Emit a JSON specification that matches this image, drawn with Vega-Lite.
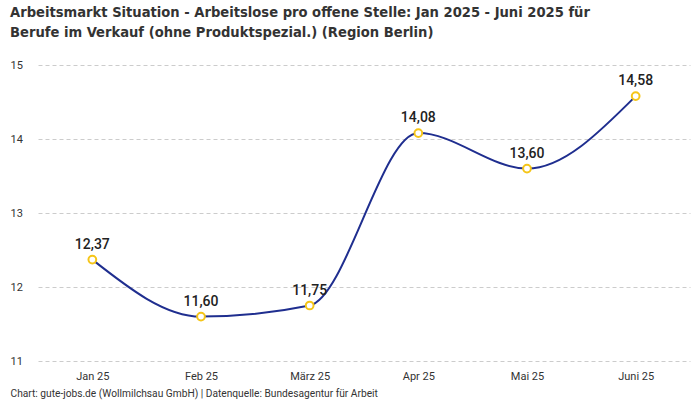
{
  "$schema": "https://vega.github.io/schema/vega-lite/v6.json",
  "width": 652,
  "height": 296,
  "autosize": {"type": "none"},
  "padding": {"left": 38, "top": 65, "right": 10, "bottom": 39},
  "background": "white",
  "config": {
    "view": {"stroke": null},
    "locale": {"number": {"decimal": ",", "thousands": ".", "grouping": [3], "currency": ["", " €"]}},
    "font": "Roboto"
  },
  "title": {
    "text": ["Arbeitsmarkt Situation - Arbeitslose pro offene Stelle: Jan 2025 - Juni 2025 für", "Berufe im Verkauf (ohne Produktspezial.) (Region Berlin)"],
    "anchor": "start",
    "frame": "group",
    "dx": -28,
    "offset": 19,
    "font": "DejaVu Sans Condensed, DejaVu Sans, sans-serif",
    "fontSize": 14.6,
    "fontWeight": "bold",
    "color": "#333333",
    "lineHeight": 20
  },
  "data": {
    "values": [
      {"monat": "Jan 25", "wert": 12.37},
      {"monat": "Feb 25", "wert": 11.60},
      {"monat": "März 25", "wert": 11.75},
      {"monat": "Apr 25", "wert": 14.08},
      {"monat": "Mai 25", "wert": 13.60},
      {"monat": "Juni 25", "wert": 14.58}
    ]
  },
  "encoding": {
    "x": {
      "field": "monat",
      "type": "ordinal",
      "sort": null,
      "scale": {"type": "point", "padding": 0.5},
      "axis": {
        "title": "Chart: gute-jobs.de (Wollmilchsau GmbH) | Datenquelle: Bundesagentur für Arbeit",
        "titleAnchor": "start",
        "titleAlign": "left",
        "titleBaseline": "alphabetic",
        "titleX": -28,
        "titleY": 35,
        "titleFontSize": 10.2,
        "titleFontWeight": "normal",
        "titleColor": "#333333",
        "labelAngle": 0,
        "labelFontSize": 11,
        "labelColor": "#333333",
        "labelPadding": 9,
        "domain": false,
        "ticks": false,
        "grid": false
      }
    },
    "y": {
      "field": "wert",
      "type": "quantitative",
      "scale": {"domain": [11, 15]},
      "axis": {
        "title": null,
        "values": [11, 12, 13, 14, 15],
        "labelAlign": "left",
        "labelPadding": 28,
        "labelFontSize": 11,
        "labelColor": "#333333",
        "domain": false,
        "ticks": false,
        "grid": true,
        "gridDash": [4, 3],
        "gridColor": "#cccccc"
      }
    }
  },
  "layer": [
    {
      "mark": {"type": "line", "interpolate": "monotone", "color": "#1f2e8f", "strokeWidth": 2}
    },
    {
      "mark": {"type": "point", "filled": true, "fill": "white", "stroke": "#f5c518", "strokeWidth": 2, "size": 60, "opacity": 1}
    },
    {
      "mark": {"type": "text", "dy": -15, "fontSize": 14, "fontWeight": 500, "color": "#222222"},
      "encoding": {"text": {"field": "wert", "type": "quantitative", "format": ".2f"}}
    }
  ]
}
